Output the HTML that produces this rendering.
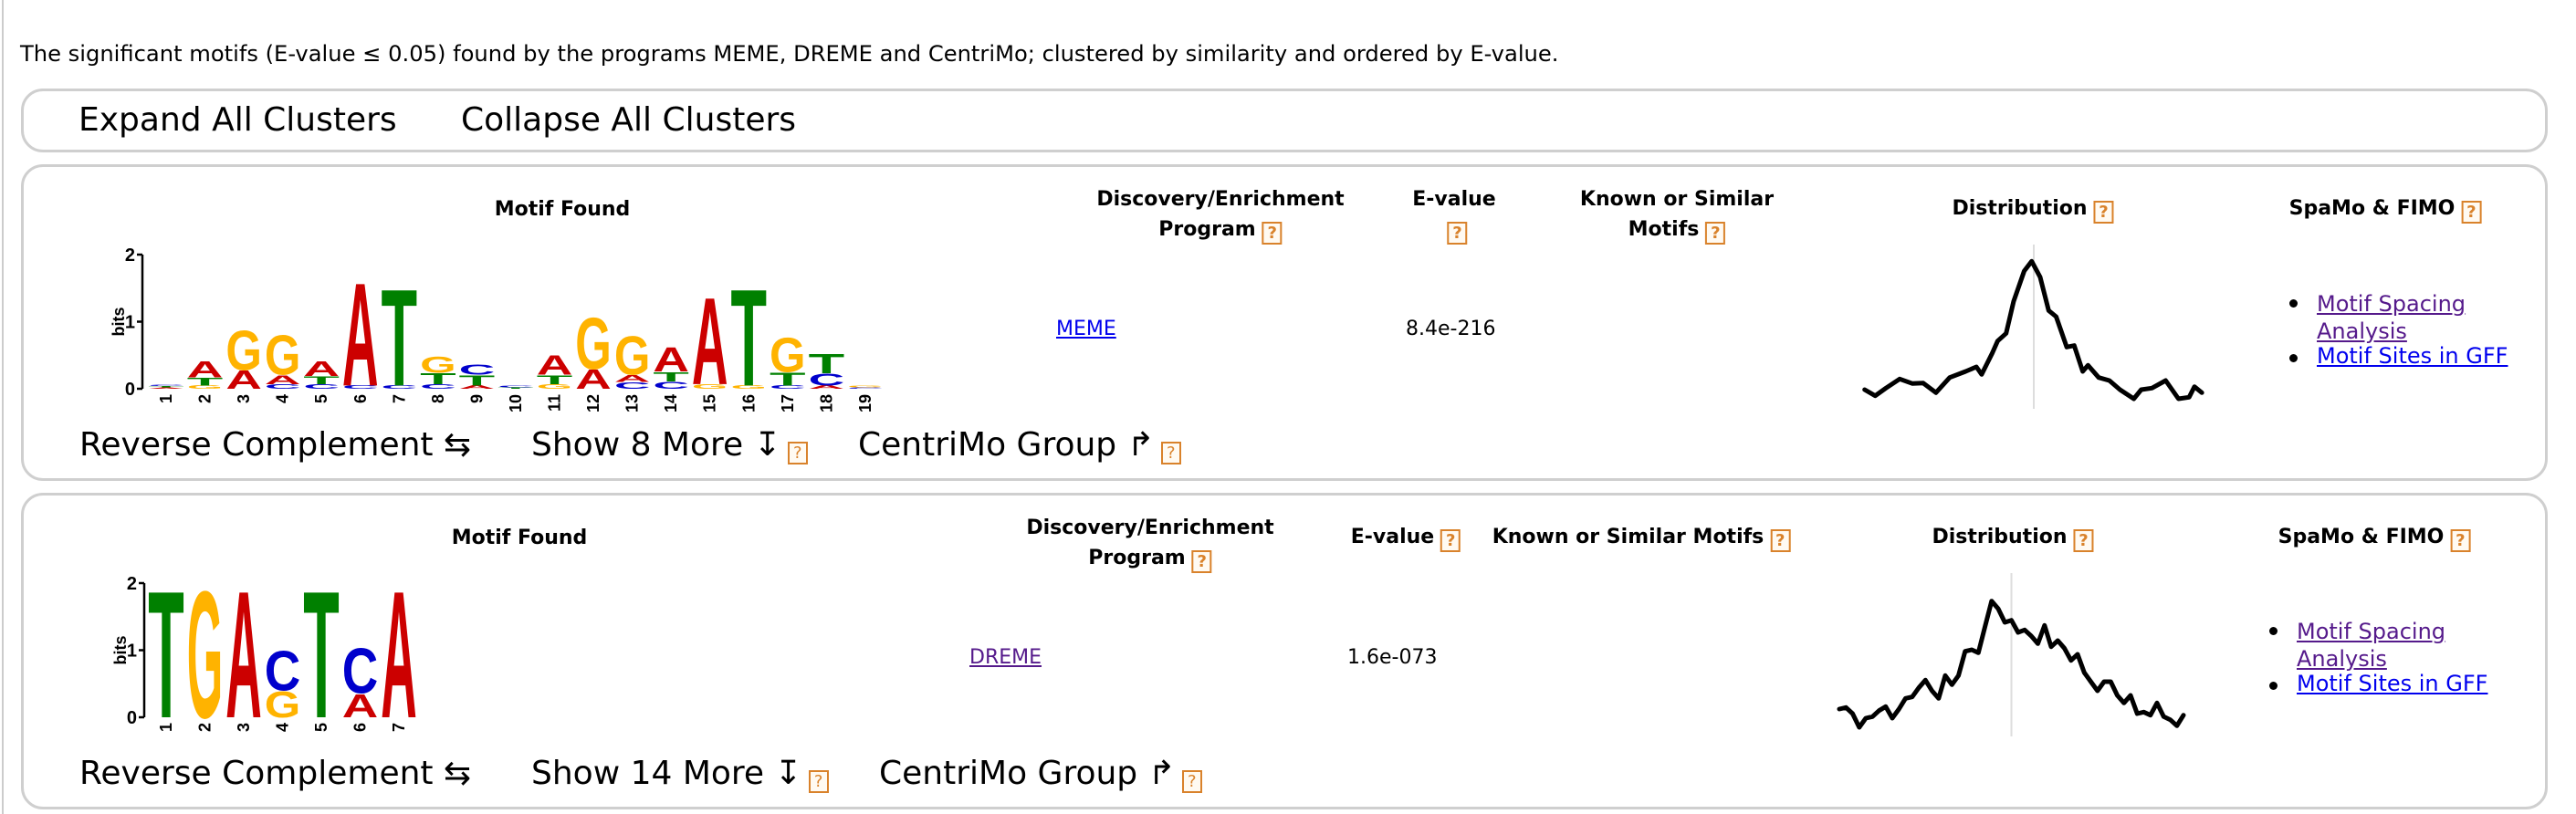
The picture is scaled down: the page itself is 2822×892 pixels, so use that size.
<!DOCTYPE html>
<html><head><meta charset="utf-8"><style>
body{margin:0;width:2822px;height:892px;background:#fff;position:relative;overflow:hidden;font-family:"DejaVu Sans","Liberation Sans",sans-serif;color:#000}
.a{position:absolute;white-space:nowrap;line-height:1}
.box{position:absolute;left:23px;width:2768px;border:3px solid #cfcfcf;border-radius:24px;box-sizing:border-box}
.h{font-weight:bold;font-size:22px;text-align:center;transform:translateX(-50%)}
.q{display:inline-block;width:18px;height:21px;border:2px solid #d9822b;color:#d9822b;font-size:18px;line-height:21px;text-align:center;vertical-align:-3px;background:#fffaf2;margin-left:7px}
.btn{font-size:36px}
.lk{font-size:24px;text-decoration:underline}
.dot{position:absolute;width:9px;height:9px;border-radius:50%;background:#000}
</style></head><body>
<div class="a" style="left:2px;top:0;width:2px;height:892px;background:#ccc"></div>
<div class="a" style="left:22px;top:47px;font-size:24.2px">The significant motifs (E-value ≤ 0.05) found by the programs MEME, DREME and CentriMo; clustered by similarity and ordered by E-value.</div>

<div class="box" style="top:97px;height:70px"></div>
<div class="a btn" style="left:86px;top:114px">Expand All Clusters</div>
<div class="a btn" style="left:505px;top:114px">Collapse All Clusters</div>

<div class="box" style="top:180px;height:347px"></div>
<div class="a h" style="left:616px;top:219px">Motif Found</div>
<div class="a h" style="left:1337px;top:202px;line-height:33px">Discovery/Enrichment<br>Program<span class="q">?</span></div>
<div class="a h" style="left:1593px;top:202px;line-height:33px">E-value<br><span class="q">?</span></div>
<div class="a h" style="left:1837px;top:202px;line-height:33px">Known or Similar<br>Motifs<span class="q">?</span></div>
<div class="a h" style="left:2227px;top:218px">Distribution<span class="q">?</span></div>
<div class="a h" style="left:2613px;top:218px">SpaMo &amp; FIMO<span class="q">?</span></div>
<div class="a lk" style="left:1157px;top:350px;color:#0000ee;font-size:22px">MEME</div>
<div class="a" style="left:1540px;top:350px;font-size:22px">8.4e-216</div>
<div class="dot" style="left:2508px;top:328px"></div>
<div class="a lk" style="left:2538px;top:318px;color:#551a8b;line-height:30px">Motif Spacing<br>Analysis</div>
<div class="dot" style="left:2508px;top:388px"></div>
<div class="a lk" style="left:2538px;top:378px;color:#0000ee">Motif Sites in GFF</div>
<div class="a btn" style="left:87px;top:470px">Reverse Complement ⇆</div>
<div class="a btn" style="left:582px;top:470px">Show 8 More ↧<span class="q">?</span></div>
<div class="a btn" style="left:940px;top:470px">CentriMo Group ↱<span class="q">?</span></div>

<div class="box" style="top:540px;height:347px"></div>
<div class="a h" style="left:569px;top:579px">Motif Found</div>
<div class="a h" style="left:1260px;top:562px;line-height:33px">Discovery/Enrichment<br>Program<span class="q">?</span></div>
<div class="a h" style="left:1540px;top:578px">E-value<span class="q">?</span></div>
<div class="a h" style="left:1798px;top:578px">Known or Similar Motifs<span class="q">?</span></div>
<div class="a h" style="left:2205px;top:578px">Distribution<span class="q">?</span></div>
<div class="a h" style="left:2601px;top:578px">SpaMo &amp; FIMO<span class="q">?</span></div>
<div class="a lk" style="left:1062px;top:710px;color:#551a8b;font-size:22px">DREME</div>
<div class="a" style="left:1476px;top:710px;font-size:22px">1.6e-073</div>
<div class="dot" style="left:2486px;top:687px"></div>
<div class="a lk" style="left:2516px;top:677px;color:#551a8b;line-height:30px">Motif Spacing<br>Analysis</div>
<div class="dot" style="left:2486px;top:747px"></div>
<div class="a lk" style="left:2516px;top:737px;color:#0000ee">Motif Sites in GFF</div>
<div class="a btn" style="left:87px;top:830px">Reverse Complement ⇆</div>
<div class="a btn" style="left:582px;top:830px">Show 14 More ↧<span class="q">?</span></div>
<div class="a btn" style="left:963px;top:830px">CentriMo Group ↱<span class="q">?</span></div>

<svg id="g" width="2822" height="892" style="position:absolute;left:0;top:0"></svg>
<script>
// Motif logo 1 stacks (bottom -> top): letter, bits
const logo1Stacks=[
 [["A",0.02],["T",0.02],["C",0.02]],
 [["G",0.05],["T",0.12],["A",0.25]],
 [["A",0.28],["G",0.62]],
 [["C",0.07],["A",0.14],["G",0.62]],
 [["C",0.07],["T",0.12],["A",0.23]],
 [["C",0.05],["A",1.6]],
 [["C",0.05],["T",1.5]],
 [["C",0.07],["T",0.17],["G",0.25]],
 [["A",0.05],["T",0.16],["C",0.16]],
 [["T",0.02],["C",0.03]],
 [["G",0.07],["T",0.14],["A",0.3]],
 [["A",0.3],["G",0.8]],
 [["C",0.1],["A",0.11],["G",0.6]],
 [["C",0.11],["T",0.15],["A",0.38]],
 [["G",0.07],["A",1.35]],
 [["G",0.05],["T",1.5]],
 [["C",0.05],["T",0.2],["G",0.53]],
 [["A",0.05],["C",0.18],["T",0.3]],
 [["C",0.02],["G",0.03]]
];
const logo2Stacks=[
 [["T",1.97]],[["G",1.97]],[["A",1.97]],
 [["G",0.4],["C",0.62]],
 [["T",1.97]],
 [["A",0.36],["C",0.7]],
 [["A",1.97]]
];
const bitTicks=["0","1","2"];
// distribution 1: offsets from center and density values
const dist1Pos=[-159,-149,-139,-126,-114,-104,-92,-79,-64,-54,-49,-39,-34,-26,-19,-9,-2,6,14,21,31,38,46,51,61,71,81,94,101,111,124,136,146,151,158];
const dist1Val=[63,43,68,98,83,85,53,103,123,138,113,183,223,248,353,453,485,433,323,303,203,208,123,143,103,93,63,33,63,68,93,33,38,73,53];
const dist2Val=[90,95,75,30,60,65,85,98,60,90,125,130,160,185,150,125,200,170,200,280,285,275,360,445,420,375,382,342,350,330,305,365,295,315,290,250,270,210,180,150,180,180,135,110,135,75,80,70,110,65,55,35,70];

const NS="http://www.w3.org/2000/svg";
const svg=document.getElementById('g');
const COL={A:"#cc0000",C:"#0000cc",G:"#ffb300",T:"#008000"};
function mk(t,at,parent){const e=document.createElementNS(NS,t);for(const k in at)e.setAttribute(k,at[k]);(parent||svg).appendChild(e);return e;}

function drawLogo(stacks,axX,y0,pxPerBit,c0,step,name){
  const g=mk('g',{});
  
  
  const yS=b=>y0-b*pxPerBit;
  mk('line',{x1:axX,y1:yS(2),x2:axX,y2:y0,stroke:'#000','stroke-width':2.5},g);
  bitTicks.forEach((t,i)=>{
    mk('line',{x1:axX-6,y1:yS(i),x2:axX,y2:yS(i),stroke:'#000','stroke-width':2.5},g);
    const tx=mk('text',{x:axX-8,y:yS(i)+7,'text-anchor':'end','font-size':20,'font-weight':'bold','font-family':'Liberation Sans, sans-serif'},g);
    tx.textContent=t;
  });
  const bl=mk('text',{transform:`translate(${axX-20},${yS(1)}) rotate(-90)`,'text-anchor':'middle','font-size':18,'font-weight':'bold','font-family':'Liberation Sans, sans-serif'},g);
  bl.textContent='bits';
  const w=step-3;
  stacks.forEach((st,i)=>{
    const cx=c0+i*step;
    let acc=0;
    st.forEach(([L,b])=>{
      const yb=yS(acc), h=b*pxPerBit;
      acc+=b;
      if(h<0.5)return;
      const t=mk('text',{x:0,y:0,'font-size':100,'font-weight':'bold','font-family':'Liberation Sans, sans-serif',fill:COL[L],textLength:72,lengthAdjust:'spacingAndGlyphs',transform:`translate(${cx-w/2},${yb}) scale(${w/72},${h/72.9})`},g);
      t.textContent=L;
      
      
    });
    const n=mk('text',{transform:`translate(${cx+6},${y0+6}) rotate(-90)`,'text-anchor':'end','font-size':18,'font-weight':'bold','font-family':'Liberation Sans, sans-serif'},g);
    n.textContent=String(i+1);
  });
}
drawLogo(logo1Stacks,156,426,73.5,182,42.55,'motif-logo-1');
drawLogo(logo2Stacks,158,786,73.5,182,42.5,'motif-logo-2');

function drawDist(xs,vals,cx,base,top,xk,yk,name){
  const g=mk('g',{});
  
  
  mk('line',{x1:cx,y1:top,x2:cx,y2:base,stroke:'#ddd','stroke-width':2},g);
  const pts=vals.map((v,i)=>`${(cx+xs[i]*xk).toFixed(1)},${(base-v*yk).toFixed(1)}`).join(' ');
  const p=mk('polyline',{points:pts,fill:'none',stroke:'#000','stroke-width':5,'stroke-linejoin':'round','stroke-linecap':'round'},g);
  
  
}
drawDist(dist1Pos,dist1Val,2228,448,268,1.1655,1/3,'distribution-plot-1');
const dist2Pos=dist2Val.map((v,i)=>i-(dist2Val.length-1)/2);
drawDist(dist2Pos,dist2Val,2203.5,807,628,377/(dist2Val.length-1),1/3,'distribution-plot-2');
</script>
</body></html>
